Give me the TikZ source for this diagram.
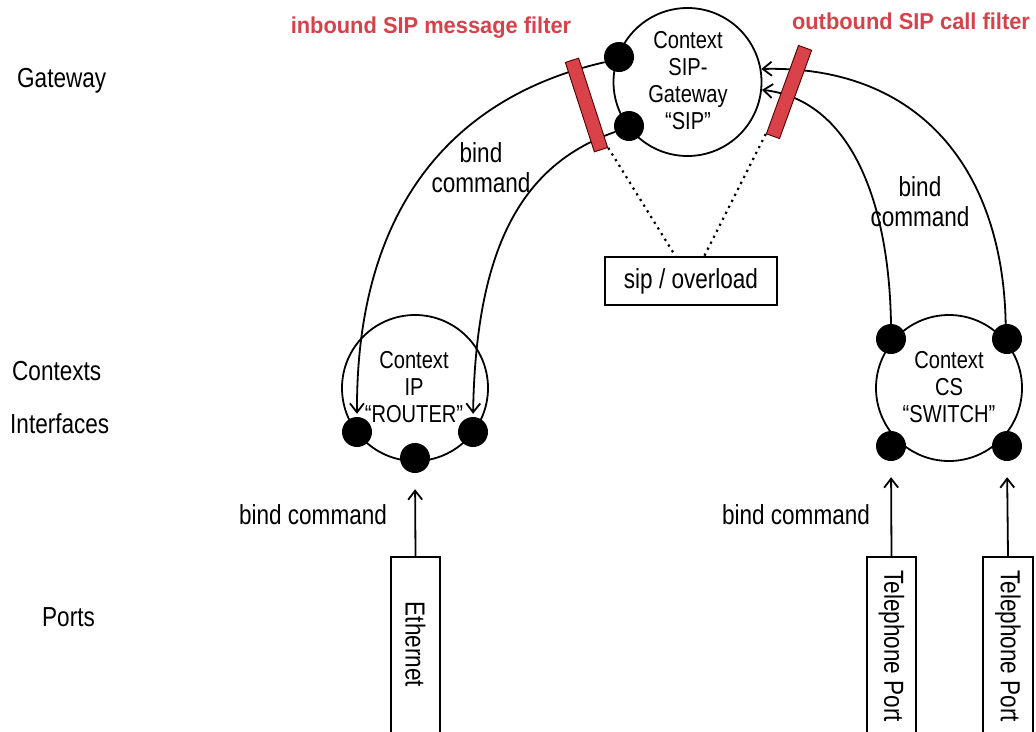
\documentclass[tikz,border=0pt]{standalone}
\usepackage{fontspec}
\setmainfont{Liberation Sans}[FakeStretch=0.82]
\newfontfamily\redfont{Liberation Sans}[FakeStretch=0.95]
\usetikzlibrary{arrows.meta}
\definecolor{filterred}{RGB}{216,66,72}
\definecolor{labelred}{RGB}{214,66,74}
\begin{document}
\begin{tikzpicture}[x=1pt,y=-1pt,
  lbl/.style={font=\fontsize{27.5}{30}\selectfont, inner sep=0pt, align=center},
  ctext/.style={font=\fontsize{24.5}{27}\selectfont, inner sep=0pt, align=center},
  redlbl/.style={font=\redfont\bfseries\fontsize{23}{26}\selectfont, text=labelred, inner sep=0pt},
  bigc/.style={circle, draw, line width=1.8pt, minimum size=148pt, inner sep=0pt},
  dot/.style={circle, fill=black, minimum size=30pt, inner sep=0pt},
  filt/.style={rectangle, fill=filterred, draw=black!70!red, line width=0.9pt, minimum width=14pt, minimum height=94pt, inner sep=0pt},
  box/.style={rectangle, draw, line width=1.8pt, inner sep=0pt},
  conn/.style={line width=1.8pt, -{Straight Barb[length=9pt,width=14pt]}},
  dotline/.style={line width=2.2pt, dash pattern=on 2.2pt off 4.5pt}
]
\useasboundingbox (0,0) rectangle (1036,731);

% left labels
\node[lbl, anchor=base west] (lgw) at (17,87) {Gateway};
\node[lbl, anchor=base west] (lctx) at (12,380) {Contexts};
\node[lbl, anchor=base west] (lif) at (10,433) {Interfaces};
\node[lbl, anchor=base west] (lport) at (42,626) {Ports};

% red filter labels
\node[redlbl, anchor=base] (inl) at (431,33) {inbound SIP message filter};
\node[redlbl, anchor=base] (outl) at (911,29) {outbound SIP call filter};

% context circles
\node[bigc] (gw) at (687.5,82) {};
\node[ctext] (gwt) at (688,81) {Context\\SIP-\\Gateway\\“SIP”};
\node[bigc, minimum size=146pt] (rt) at (415,388) {};
\node[ctext] (rtt) at (414,387) {Context\\IP\\“ROUTER”};
\node[bigc, minimum size=146pt] (sw) at (949,388) {};
\node[ctext] (swt) at (949,387) {Context\\CS\\“SWITCH”};

% overload box
\node[box, minimum width=172pt, minimum height=48pt] (sip) at (691,281) {};
\node[lbl] (sipt) at (691,281) {sip / overload};

% port boxes
\node[box, minimum width=49pt, minimum height=180pt] (eth) at (415.5,647) {};
\node[lbl, rotate=-90] (etht) at (415.5,644.5) {Ethernet};
\node[box, minimum width=49pt, minimum height=190pt] (tp1) at (891.5,652) {};
\node[lbl, rotate=-90, anchor=west] (tp1t) at (891.5,570) {Telephone Port};
\node[box, minimum width=50pt, minimum height=190pt] (tp2) at (1008,652) {};
\node[lbl, rotate=-90, anchor=west] (tp2t) at (1008,570) {Telephone Port};

% bind command labels
\node[lbl, anchor=base] (bc1) at (313,524) {bind command};
\node[lbl, anchor=base] (bc2) at (796,524) {bind command};
\node[lbl] (bc3) at (481,168) {bind\\command};
\node[lbl] (bc4) at (920,202) {bind\\command};

% interface dots
\node[dot] (gu) at (619,57) {};
\node[dot] (gl) at (629,126) {};
\node[dot] (rl) at (357,432) {};
\node[dot] (rr) at (473,432) {};
\node[dot] (rb) at (415,458) {};
\node[dot] (stl) at (891,339) {};
\node[dot] (str) at (1007,339) {};
\node[dot] (sbl) at (891,446) {};
\node[dot] (sbr) at (1007,446) {};

% bind connectors
\draw[conn, shorten >=3pt] (gu.200) .. controls (460,95) and (356,200) .. (rl.north);
\draw[conn, shorten >=3pt] (gl.203) .. controls (520,165) and (476,250) .. (rr.north);
\draw[conn] (stl.north) .. controls (889,200) and (850,100) .. (gw.-6);
\draw[conn] (str.95) .. controls (1003,170) and (920,65) .. (gw.10);
\draw[conn, shorten >=16pt] (eth.north) -- (rb.south);
\draw[conn, shorten >=16pt] (tp1.north) -- (sbl.south);
\draw[conn, shorten >=16pt] (tp2.north) -- (sbr.south);

% filters
\node[filt, rotate=18] (fl) at (586.5,105) {};
\node[filt, rotate=-20] (fr) at (789,92) {};

% dotted links to overload box
\draw[dotline] (fl.south east) -- (sip.122);
\draw[dotline] (fr.south west) -- (sip.62);
\end{tikzpicture}
\end{document}
